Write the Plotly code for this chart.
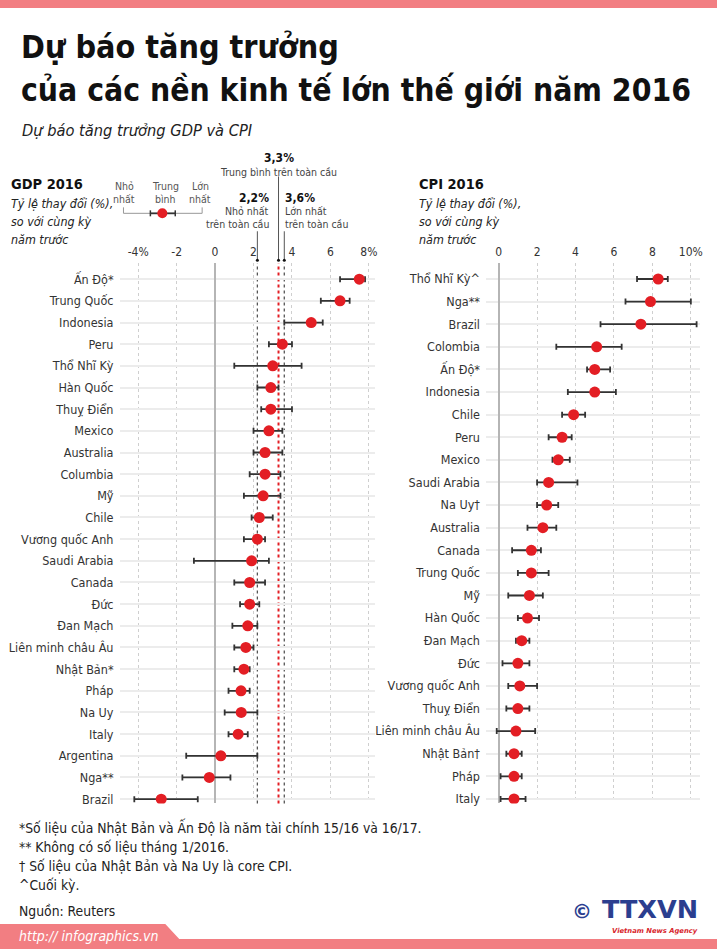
import plotly.graph_objects as go

W, H = 720, 952

# ---------------- data ----------------
gdp_countries = ["Ấn Độ*", "Trung Quốc", "Indonesia", "Peru", "Thổ Nhĩ Kỳ", "Hàn Quốc",
                 "Thuỵ Điển", "Mexico", "Australia", "Columbia", "Mỹ", "Chile",
                 "Vương quốc Anh", "Saudi Arabia", "Canada", "Đức", "Đan Mạch",
                 "Liên minh châu Âu", "Nhật Bản*", "Pháp", "Na Uy", "Italy",
                 "Argentina", "Nga**", "Brazil"]
gdp_mean = [7.5, 6.5, 5.0, 3.5, 3.0, 2.9, 2.9, 2.8, 2.6, 2.6, 2.5, 2.3, 2.2, 1.9,
            1.8, 1.8, 1.7, 1.6, 1.5, 1.35, 1.36, 1.2, 0.3, -0.3, -2.8]
gdp_low = [6.5, 5.5, 3.6, 2.8, 1.0, 2.2, 2.4, 2.0, 2.0, 1.8, 1.5, 1.9, 1.5, -1.1,
           1.0, 1.3, 0.9, 1.0, 1.0, 0.7, 0.5, 0.7, -1.5, -1.7, -4.2]
gdp_high = [7.8, 7.0, 5.6, 4.0, 4.5, 3.3, 4.0, 3.5, 3.5, 3.4, 3.4, 3.0, 2.6, 2.8,
            2.6, 2.3, 2.2, 2.0, 1.8, 1.8, 2.2, 1.7, 2.2, 0.8, -0.9]

cpi_countries = ["Thổ Nhĩ Kỳ^", "Nga**", "Brazil", "Colombia", "Ấn Độ*", "Indonesia",
                 "Chile", "Peru", "Mexico", "Saudi Arabia", "Na Uy†", "Australia",
                 "Canada", "Trung Quốc", "Mỹ", "Hàn Quốc", "Đan Mạch", "Đức",
                 "Vương quốc Anh", "Thuỵ Điển", "Liên minh châu Âu", "Nhật Bản†",
                 "Pháp", "Italy"]
cpi_mean = [8.3, 7.9, 7.4, 5.1, 5.0, 5.0, 3.9, 3.3, 3.1, 2.6, 2.5, 2.3, 1.7, 1.7,
            1.6, 1.5, 1.2, 1.0, 1.1, 1.0, 0.9, 0.8, 0.8, 0.8]
cpi_low = [7.2, 6.6, 5.3, 3.0, 4.6, 3.6, 3.3, 2.6, 2.8, 2.0, 2.0, 1.5, 0.7, 1.0,
           0.5, 1.0, 0.9, 0.2, 0.5, 0.4, -0.1, 0.4, 0.1, 0.1]
cpi_high = [8.8, 10.0, 10.3, 6.4, 5.8, 6.1, 4.5, 3.8, 3.7, 4.1, 3.1, 3.0, 2.2, 2.6,
            2.3, 2.1, 1.6, 1.6, 2.0, 1.6, 1.9, 1.2, 1.2, 1.4]

gdp_tickvals = [-4, -2, 0, 2, 4, 6, 8]
gdp_ticktext = ["-4%", "-2", "0", "2", "4", "6", "8%"]
cpi_tickvals = [0, 2, 4, 6, 8, 10]
cpi_ticktext = ["0", "2", "4", "6", "8", "10%"]

global_min, global_avg, global_max = 2.2, 3.3, 3.6

# ---------------- style ----------------
FONT = "DejaVu Sans Condensed, Liberation Sans Narrow, Liberation Sans, sans-serif"
LOGO_FONT = "DejaVu Sans, Liberation Sans, sans-serif"
RED = "#E31E24"
PINK = "#F27E82"
TXT = "#333333"


def px(x):
    return x / W


def py(y):
    return 1 - y / H


fig = go.Figure()

fig.add_trace(go.Scatter(
    x=gdp_mean, y=list(range(len(gdp_countries))), mode="markers",
    marker=dict(color=RED, size=11),
    error_x=dict(type="data", symmetric=False,
                 array=[h - m for h, m in zip(gdp_high, gdp_mean)],
                 arrayminus=[m - l for m, l in zip(gdp_mean, gdp_low)],
                 color="#333333", thickness=1.8, width=3),
    xaxis="x", yaxis="y", showlegend=False, hoverinfo="skip"))

fig.add_trace(go.Scatter(
    x=cpi_mean, y=list(range(len(cpi_countries))), mode="markers",
    marker=dict(color=RED, size=11),
    error_x=dict(type="data", symmetric=False,
                 array=[h - m for h, m in zip(cpi_high, cpi_mean)],
                 arrayminus=[m - l for m, l in zip(cpi_mean, cpi_low)],
                 color="#333333", thickness=1.8, width=3),
    xaxis="x2", yaxis="y2", showlegend=False, hoverinfo="skip"))

ydom = [py(806), py(264)]
axis_common = dict(showgrid=True, gridcolor="#cfcfcf", griddash="dot", gridwidth=1,
                   zeroline=True, zerolinecolor="#b5b5b5", zerolinewidth=2,
                   side="top", ticks="", ticklabelstandoff=4,
                   tickfont=dict(family=FONT, size=12, color=TXT),
                   showline=False, fixedrange=True)
yaxis_common = dict(showgrid=True, gridcolor="#ececec", gridwidth=1.5, zeroline=False,
                    ticks="", ticklabelstandoff=5, showline=False,
                    tickfont=dict(family=FONT, size=12.5, color=TXT), fixedrange=True)

fig.update_layout(
    width=W, height=H, margin=dict(l=0, r=0, t=0, b=0),
    paper_bgcolor="white", plot_bgcolor="white",
    xaxis=dict(domain=[px(120), px(377)], range=[-4.97, 8.34], anchor="y",
               tickvals=gdp_tickvals, ticktext=gdp_ticktext, **axis_common),
    yaxis=dict(domain=ydom, range=[24.2, -0.74], anchor="x",
               tickvals=list(range(len(gdp_countries))), ticktext=gdp_countries,
               **yaxis_common),
    xaxis2=dict(domain=[px(488), px(703)], range=[-0.66, 10.48], anchor="y2",
                tickvals=cpi_tickvals, ticktext=cpi_ticktext, **axis_common),
    yaxis2=dict(domain=ydom, range=[23.2, -0.7], anchor="x2",
                tickvals=list(range(len(cpi_countries))), ticktext=cpi_countries,
                **yaxis_common),
)

shapes = []
# top band
shapes.append(dict(type="rect", xref="paper", yref="paper", x0=0, x1=1, y0=py(8), y1=1,
                   fillcolor=PINK, line=dict(width=0), layer="above"))
# footer band
shapes.append(dict(type="path", xref="paper", yref="paper",
                   path=f"M0,{py(927)} L{px(166)},{py(927)} L{px(180)},{py(942)} "
                        f"L1,{py(942)} L1,0 L0,0 Z",
                   fillcolor=PINK, line=dict(width=0)))

# global reference lines inside the GDP plot
for val, col, wd in [(global_min, "#555555", 1.3), (global_max, "#555555", 1.3),
                     (global_avg, "#E31E24", 2)]:
    shapes.append(dict(type="line", xref="x", yref="paper", x0=val, x1=val,
                       y0=py(806), y1=py(264), line=dict(color=col, width=wd, dash="dot"),
                       layer="between"))
# leader lines above the plot
for val, ytop in [(global_min, 232), (global_max, 232), (global_avg, 177)]:
    shapes.append(dict(type="line", xref="x", yref="paper", x0=val, x1=val,
                       y0=py(260), y1=py(ytop), line=dict(color="#555555", width=1)))
    shapes.append(dict(type="circle", xref="x", yref="paper", xsizemode="pixel",
                       ysizemode="pixel", xanchor=val, yanchor=py(261),
                       x0=-1.5, x1=1.5, y0=-1.5, y1=1.5,
                       fillcolor="#111111", line=dict(width=0)))

# legend key (min / mean / max)
shapes.append(dict(type="path", xref="paper", yref="paper",
                   path=f"M{px(124)},{py(208)} L{px(124)},{py(214)} L{px(151)},{py(214)}",
                   line=dict(color="#999999", width=1)))
shapes.append(dict(type="path", xref="paper", yref="paper",
                   path=f"M{px(176)},{py(214)} L{px(203)},{py(214)} L{px(203)},{py(208)}",
                   line=dict(color="#999999", width=1)))
shapes.append(dict(type="line", xref="paper", yref="paper", x0=px(151), x1=px(176),
                   y0=py(214), y1=py(214), line=dict(color="#333333", width=1.8)))
for xx in (151, 176):
    shapes.append(dict(type="line", xref="paper", yref="paper", x0=px(xx), x1=px(xx),
                       y0=py(211), y1=py(217), line=dict(color="#333333", width=1.5)))
shapes.append(dict(type="circle", xref="paper", yref="paper",
                   x0=px(158), x1=px(168), y0=py(219), y1=py(209),
                   fillcolor=RED, line=dict(width=0)))

fig.update_layout(shapes=shapes)

ann = []


def text(x, y, s, size, color=TXT, xanchor="left", bold=False, italic=False,
         xref="paper", xshift=0, family=FONT):
    if bold:
        s = f"<b>{s}</b>"
    if italic:
        s = f"<i>{s}</i>"
    ann.append(dict(x=x if xref != "paper" else px(x), y=py(y), xref=xref, yref="paper",
                    text=s, showarrow=False, xanchor=xanchor, yanchor="middle",
                    xshift=xshift,
                    font=dict(family=family, size=size, color=color), align=xanchor))


# titles
text(19, 47, "Dự báo tăng trưởng", 32, "#111111", bold=True)
text(19, 90, "của các nền kinh tế lớn thế giới năm 2016", 31.6, "#111111", bold=True)
text(20, 131, "Dự báo tăng trưởng GDP và CPI", 16.3, "#222222", italic=True)

# GDP header
text(9, 185, "GDP 2016", 14.5, "#111111", bold=True)
text(9, 204, "Tỷ lệ thay đổi (%),", 12.4, "#222222", italic=True)
text(9, 222, "so với cùng kỳ", 12.4, "#222222", italic=True)
text(9, 240, "năm trước", 12.4, "#222222", italic=True)

# CPI header
text(419, 185, "CPI 2016", 14.5, "#111111", bold=True)
text(419, 204, "Tỷ lệ thay đổi (%),", 12.4, "#222222", italic=True)
text(419, 222, "so với cùng kỳ", 12.4, "#222222", italic=True)
text(419, 240, "năm trước", 12.4, "#222222", italic=True)

# legend labels
for xc, a, b in [(125, "Nhỏ", "nhất"), (166, "Trung", "bình"), (201, "Lớn", "nhất")]:
    text(xc, 187, a, 10.5, "#555555", xanchor="center")
    text(xc, 200, b, 10.5, "#555555", xanchor="center")

# global annotations
text(global_avg, 158, "3,3%", 12, "#111111", xanchor="center", bold=True, xref="x")
text(global_avg, 173, "Trung bình trên toàn cầu", 10.5, "#444444", xanchor="center", xref="x")
text(global_min, 199, "2,2%", 12, "#111111", xanchor="right", bold=True, xref="x", xshift=14)
text(global_min, 212, "Nhỏ nhất", 10.5, "#444444", xanchor="right", xref="x", xshift=14)
text(global_min, 225, "trên toàn cầu", 10.5, "#444444", xanchor="right", xref="x", xshift=14)
text(global_max, 199, "3,6%", 12, "#111111", xanchor="left", bold=True, xref="x", xshift=-1)
text(global_max, 212, "Lớn nhất", 10.5, "#444444", xanchor="left", xref="x", xshift=-1)
text(global_max, 225, "trên toàn cầu", 10.5, "#444444", xanchor="left", xref="x", xshift=-1)

# footnotes
text(17, 830, "*Số liệu của Nhật Bản và Ấn Độ là năm tài chính 15/16 và 16/17.", 13.8, "#222222")
text(17, 850, "** Không có số liệu tháng 1/2016.", 13.8, "#222222")
text(17, 869, "† Số liệu của Nhật Bản và Na Uy là core CPI.", 13.8, "#222222")
text(17, 888, "^Cuối kỳ.", 13.8, "#222222")
text(17, 914, "Nguồn: Reuters", 13.8, "#222222")
text(17, 939, "http:// infographics.vn", 14, "white", italic=True)

# logo
text(584, 914, "©", 20, "#2B3E8F", xanchor="center", bold=True, family=LOGO_FONT)
text(603, 912, "TTXVN", 25.5, "#2B3E8F", bold=True, family=LOGO_FONT)
text(703, 934, "Vietnam News Agency", 6.8, "#D8262C", xanchor="right", bold=True,
     italic=True, family=LOGO_FONT)

fig.update_layout(annotations=ann)

fig.write_html("out.html", config={"displayModeBar": False},
               post_script="document.body.style.margin='0';"
                           "document.body.style.overflow='hidden';")
